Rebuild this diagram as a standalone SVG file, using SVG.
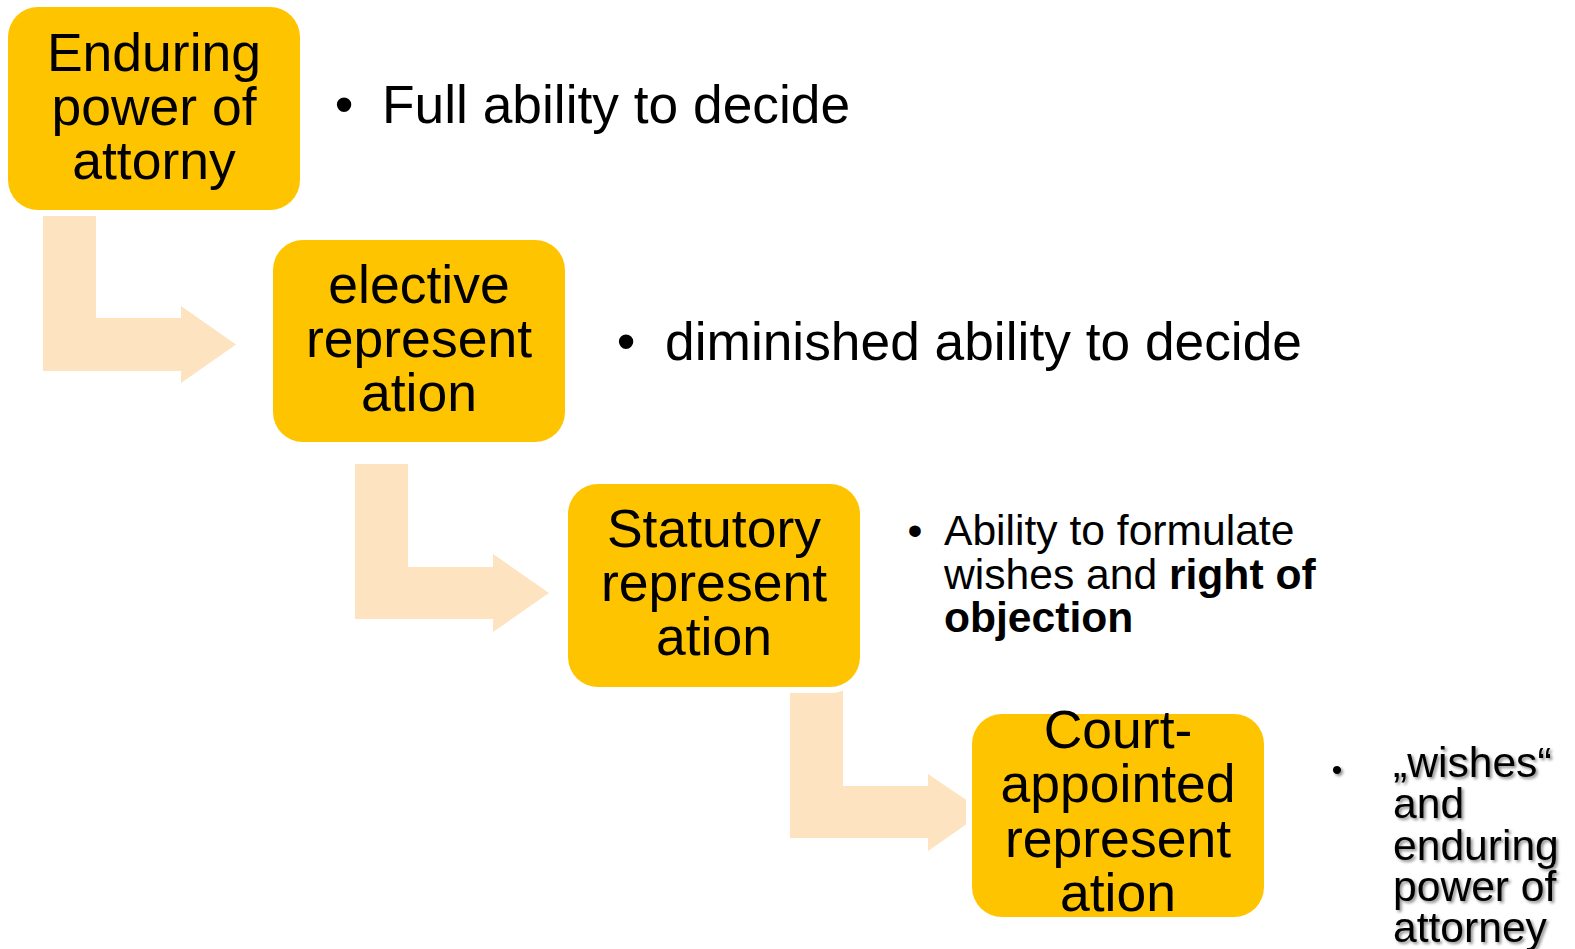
<svg xmlns="http://www.w3.org/2000/svg" width="1575" height="949" viewBox="0 0 1575 949">
<defs>
<style>
.box{fill:#FFC400;stroke:#FFFFFF;stroke-width:12;paint-order:stroke}
.arr{fill:#FDE3BF}
.bt{font-family:"Liberation Sans",Arial,sans-serif;font-size:53.5px;fill:#000;text-anchor:middle}
.t1{font-family:"Liberation Sans",Arial,sans-serif;font-size:53.3px;fill:#000}
.t2{font-family:"Liberation Sans",Arial,sans-serif;font-size:42.6px;fill:#000}
.b{font-weight:bold}
</style>
<filter id="sh" x="-10%" y="-10%" width="130%" height="130%">
<feDropShadow dx="2" dy="2" stdDeviation="1.5" flood-color="#000" flood-opacity="0.45"/>
</filter>
</defs>
<rect width="1575" height="949" fill="#FFFFFF"/>
<g id="connectors">
<polygon class="arr" points="43,212 96,212 96,318 181,318 181,306 236,344.5 181,383 181,371 43,371"/>
<polygon class="arr" points="355,464 408,464 408,567 493,567 493,554 549,593 493,632 493,619 355,619"/>
<polygon class="arr" points="790,686 843,686 843,786 928,786 928,774 984,812 928,851 928,838 790,838"/>
</g>
<g id="node1">
<rect class="box" x="8" y="7" width="292" height="203" rx="30"/>
<text class="bt" x="154" y="71">Enduring</text>
<text class="bt" x="154" y="125">power of</text>
<text class="bt" x="154" y="179">attorny</text>
</g>
<g id="node2">
<rect class="box" x="273" y="240" width="292" height="202" rx="30"/>
<text class="bt" x="419" y="303">elective</text>
<text class="bt" x="419" y="357">represent</text>
<text class="bt" x="419" y="411">ation</text>
</g>
<g id="node3">
<rect class="box" x="568" y="484" width="292" height="203" rx="30"/>
<text class="bt" x="714" y="547">Statutory</text>
<text class="bt" x="714" y="601">represent</text>
<text class="bt" x="714" y="655">ation</text>
</g>
<g id="node4">
<rect class="box" x="972" y="714" width="292" height="203" rx="30"/>
<text class="bt" x="1118" y="748">Court-</text>
<text class="bt" x="1118" y="802">appointed</text>
<text class="bt" x="1118" y="857">represent</text>
<text class="bt" x="1118" y="911">ation</text>
</g>
<g id="desc1">
<text class="t1" x="344" y="123" text-anchor="middle">•</text>
<text class="t1" x="382" y="123">Full ability to decide</text>
</g>
<g id="desc2">
<text class="t1" x="626" y="360" text-anchor="middle">•</text>
<text class="t1" x="665" y="360">diminished ability to decide</text>
</g>
<g id="desc3">
<text class="t2" x="915" y="545" text-anchor="middle">•</text>
<text class="t2" x="944" y="545">Ability to formulate</text>
<text class="t2" x="944" y="589">wishes and <tspan class="b">right of</tspan></text>
<text class="t2 b" x="944" y="632">objection</text>
</g>
<g id="desc4" filter="url(#sh)">
<text class="t2" x="1337" y="780" text-anchor="middle" style="font-size:30px">•</text>
<text class="t2" x="1393" y="777">„wishes“</text>
<text class="t2" x="1393" y="818">and</text>
<text class="t2" x="1393" y="860">enduring</text>
<text class="t2" x="1393" y="901">power of</text>
<text class="t2" x="1393" y="942">attorney</text>
</g>
</svg>
